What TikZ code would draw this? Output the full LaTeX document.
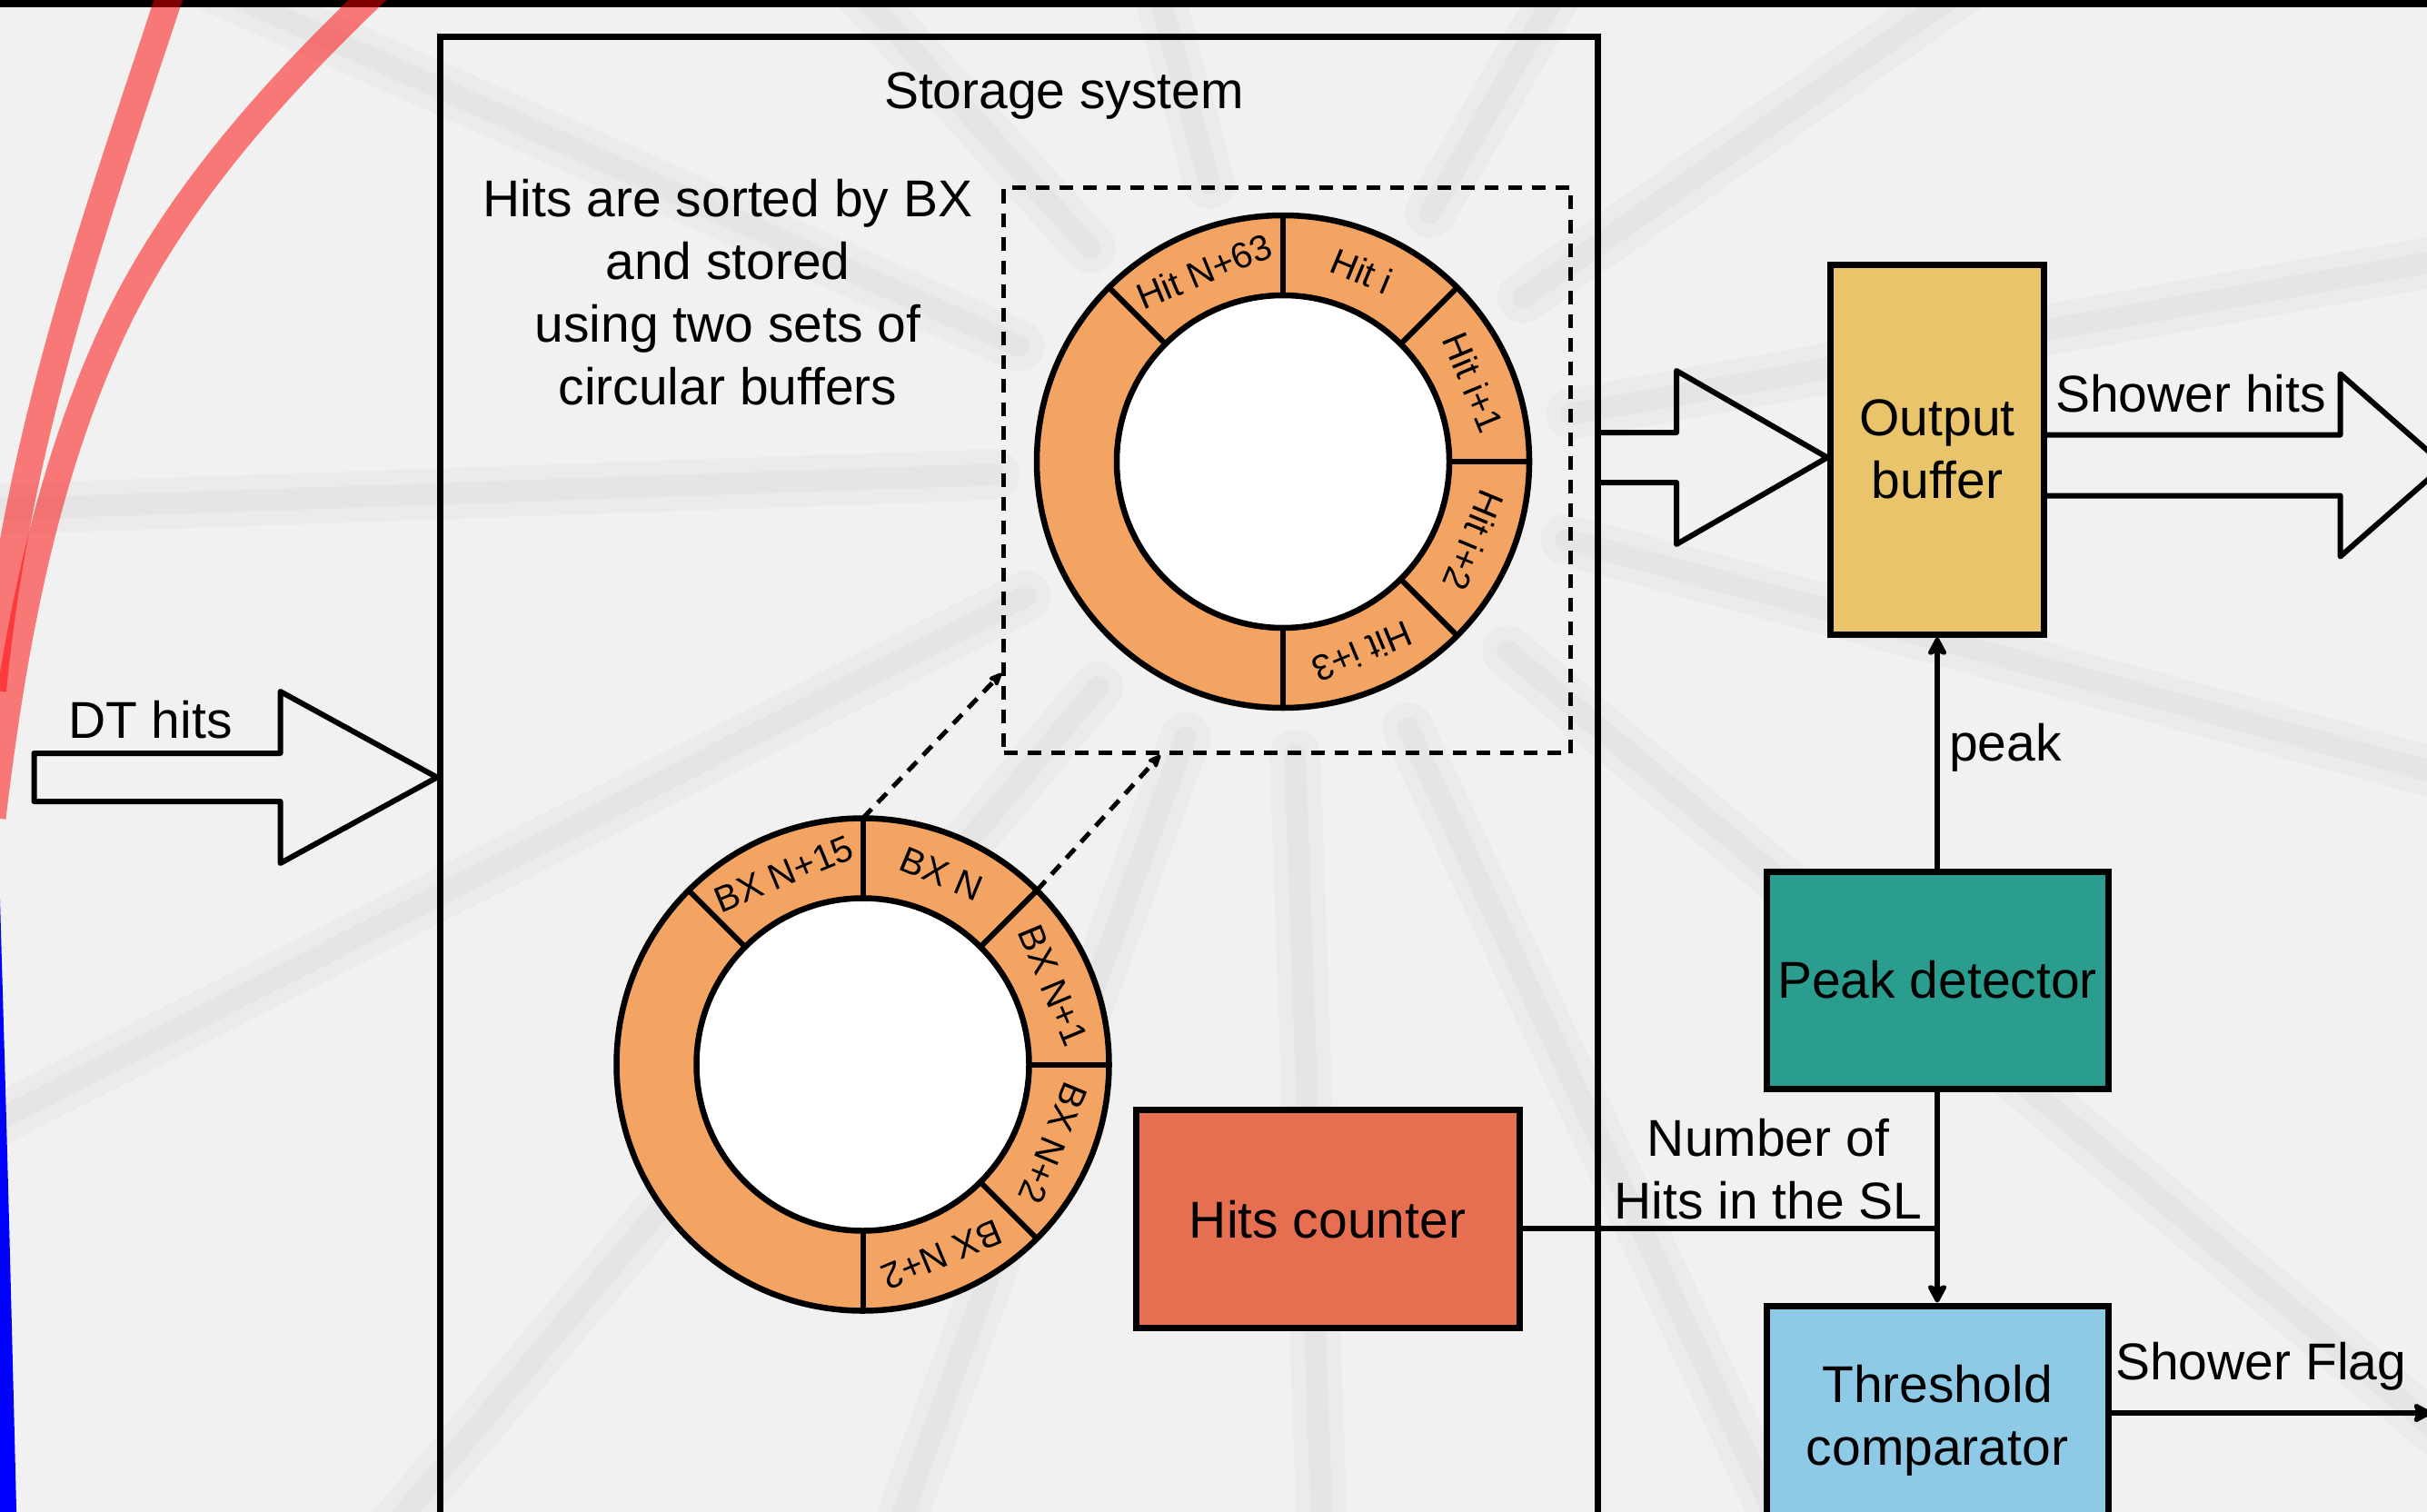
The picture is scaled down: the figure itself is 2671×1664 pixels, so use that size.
\documentclass[tikz,border=0pt]{standalone}
\usepackage{fontspec}
\setmainfont{Liberation Sans}
\usetikzlibrary{arrows.meta,calc}
\definecolor{bgcol}{HTML}{F1F1F1}
\definecolor{ringcol}{HTML}{F3A462}
\definecolor{bufcol}{HTML}{E9C46A}
\definecolor{peakcol}{HTML}{2A9D8F}
\definecolor{cntcol}{HTML}{E76F51}
\definecolor{thrcol}{HTML}{8ECAE6}
\tikzset{
  ringbuf/.pic={
    \fill[ringcol, even odd rule] (0,0) circle (271) (0,0) circle (183);
    \fill[white] (0,0) circle (183);
    \draw[line width=6.5pt] (0,0) circle (271) (0,0) circle (183);
    \foreach \a in {225,270,315,0,45,90} \draw[line width=6pt] (\a:183) -- (\a:271);
  }
}
\begin{document}
\begin{tikzpicture}[x=1pt,y=-1pt,
  every node/.style={font=\fontsize{57}{69}\selectfont, inner sep=0pt, text=black},
  block/.style={draw=black, line width=7pt, rectangle, align=center},
  bigarrow/.style={draw=black, line width=6pt, line join=round},
  flow/.style={line width=6.5pt, -{Stealth[length=24pt,width=25pt,inset=5pt,round]}},
  link/.style={line width=5pt, dash pattern=on 14pt off 10pt, -{Stealth[length=18pt,width=15pt,inset=3pt,round]}},
  ringtext/.style={font=\fontsize{40}{48}\selectfont},
  streak/.style={line cap=round, draw=black, opacity=0.022, line width=#1},
]
% canvas and frame
\fill[bgcol] (0,0) rectangle (2671,1664);
\useasboundingbox (0,0) rectangle (2671,1664);

% faint radial traces of the detector display
\coordinate (hub) at (1414,511);
\foreach \a in {153,178,204,228,130,110,88,65,40,15,-10,-35,-60,-105} {
  \draw[streak=56pt] ($(hub)+(\a:320)$) -- ($(hub)+(\a:1700)$);
  \draw[streak=24pt] ($(hub)+(\a:320)$) -- ($(hub)+(\a:1700)$);
}

\fill[black] (0,0) rectangle (2671,8);

% muon tracks on the left edge
\draw[red, opacity=0.5, line width=30pt] (195,-30) .. controls (110,230) and (20,470) .. (-8,760);
\draw[red, opacity=0.5, line width=29pt] (420,-15) .. controls (300.5,98.8) and (186.7,224.5) .. (119,375)
  .. controls (45.2,539) and (13.4,721.3) .. (-8,900);
\draw[blue, line width=22pt] (-11,990) .. controls (-2,1300) .. (8,1700);

% storage system
\node[block, minimum width=1274pt, minimum height=1700pt, anchor=north west] (store) at (481,37) {};
\node[anchor=base] (title) at (1171,120) {Storage system};
\node[align=center, anchor=base] (note) at (801,445.5) {Hits are sorted by BX\\and stored\\using two sets of\\circular buffers};

% circular buffers
\node[draw=black, line width=5pt, dash pattern=on 15pt off 11pt, minimum width=624pt, minimum height=622pt, anchor=north west] (hitbuf) at (1102,204) {};
\coordinate (hitc) at (1412,508);
\coordinate (bxc) at (949.5,1171.5);
\pic at (hitc) {ringbuf};
\pic at (bxc) {ringbuf};

\node[ringtext, rotate=-337.5] (h63) at ($(hitc)+(247.5:227)$) {Hit N+63};
\node[ringtext, rotate=-382.5] (h0) at ($(hitc)+(292.5:227)$) {Hit i};
\node[ringtext, rotate=-427.5] (h1) at ($(hitc)+(337.5:227)$) {Hit i+1};
\node[ringtext, rotate=-112.5] (h2) at ($(hitc)+(22.5:227)$) {Hit i+2};
\node[ringtext, rotate=-157.5] (h3) at ($(hitc)+(67.5:227)$) {Hit i+3};

\node[ringtext, rotate=-337.5] (b15) at ($(bxc)+(247.5:227)$) {BX N+15};
\node[ringtext, rotate=-382.5] (b0) at ($(bxc)+(292.5:227)$) {BX N};
\node[ringtext, rotate=-427.5] (b1) at ($(bxc)+(337.5:227)$) {BX N+1};
\node[ringtext, rotate=-112.5] (b2) at ($(bxc)+(22.5:227)$) {BX N+2};
\node[ringtext, rotate=-157.5] (b3) at ($(bxc)+(67.5:227)$) {BX N+2};

\coordinate (bxtop) at ($(bxc)+(270:271)$);
\coordinate (bxne) at ($(bxc)+(315:271)$);
\coordinate (hbL) at ($(hitbuf.south west)+(0,-90)$);
\coordinate (hbB) at ($(hitbuf.south west)+(175,0)$);
\draw[link] (bxtop) -- (hbL);
\draw[link] (bxne) -- (hbB);

% processing blocks
\node[block, fill=bufcol, minimum width=235pt, minimum height=407pt] (buf) at (2132,494.5) {Output\\buffer};
\node[block, fill=peakcol, minimum width=376pt, minimum height=239pt] (peak) at (2132,1078.5) {Peak detector};
\node[block, fill=thrcol, minimum width=376pt, minimum height=252pt] (thr) at (2132,1563) {Threshold\\comparator};
\node[block, fill=cntcol, minimum width=422pt, minimum height=240pt] (cnt) at (1461,1341.7) {Hits counter};

% DT hits input arrow
\coordinate (inTail) at (37.5,855.5);
\coordinate (inTip) at (store.west |- inTail);
\draw[bigarrow] ($(inTail)+(0,-26.5)$) -- ++(271,0) -- ++(0,-68) -- (inTip)
  -- ($(inTail)+(271,94.5)$) -- ++(0,-68) -- ($(inTail)+(0,26.5)$) -- cycle;
\node[anchor=base west] (dtlab) at (75,812) {DT hits};

% storage to output buffer
\coordinate (hsY) at (0,503.5);
\coordinate (hsTail) at (store.east |- hsY);
\coordinate (hsTip) at (buf.west |- hsY);
\draw[bigarrow] ($(hsTail)+(0,-27.5)$) -- ($(hsTip)+(-166,-27.5)$) -- ($(hsTip)+(-166,-95.5)$) -- (hsTip)
  -- ($(hsTip)+(-166,95.5)$) -- ($(hsTip)+(-166,27.5)$) -- ($(hsTail)+(0,27.5)$);

% shower hits output arrow
\coordinate (shY) at (0,512);
\coordinate (shTail) at (buf.east |- shY);
\coordinate (shTip) at (2690,512);
\draw[bigarrow] ($(shTail)+(0,-33.5)$) -- ($(shTip)+(-114.5,-33.5)$) -- ($(shTip)+(-114.5,-100.5)$) -- (shTip)
  -- ($(shTip)+(-114.5,100.5)$) -- ($(shTip)+(-114.5,33.5)$) -- ($(shTail)+(0,33.5)$);
\node[anchor=base west] (shlab) at (2262,453) {Shower hits};

% control path
\draw[flow] (peak.north) -- (buf.south);
\node[anchor=base west] (peaklab) at (2145,837) {peak};

\coordinate (jn) at (2132,1352);
\draw[line width=6pt] (cnt.east |- jn) -- (jn);
\draw[flow] (peak.south) -- (thr.north);
\node[align=center, anchor=base] (numlab) at (1946,1341.7) {Number of\\Hits in the SL};

\coordinate (flagY) at (0,1555);
\coordinate (flagEnd) at (2676,1555);
\draw[flow] (thr.east |- flagY) -- (flagEnd);
\node[anchor=base west] (flaglab) at (2328,1518) {Shower Flag};
\end{tikzpicture}
\end{document}
